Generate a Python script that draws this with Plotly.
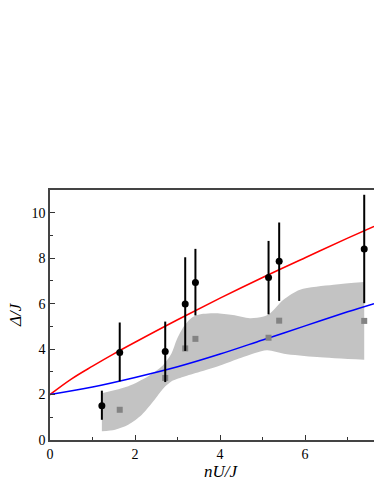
import plotly.graph_objects as go

# Measured points (black circles) with asymmetric error bars
pts_x = [1.22, 1.64, 2.71, 3.18, 3.42, 5.14, 5.39, 7.39]
pts_y = [1.51, 3.85, 3.89, 5.98, 6.93, 7.15, 7.86, 8.40]
pts_top = [2.17, 5.17, 5.21, 8.04, 8.41, 8.76, 9.57, 10.79]
pts_bottom = [0.89, 2.58, 2.55, 3.92, 5.48, 5.53, 6.12, 6.02]

# Grey squares
sq_x = [1.64, 2.71, 3.18, 3.42, 5.14, 5.39, 7.39]
sq_y = [1.33, 2.73, 4.03, 4.45, 4.50, 5.25, 5.24]

# Grey band: upper and lower edges
band_up_x = [1.22, 1.84, 2.31, 2.63, 2.86, 2.98, 3.15, 3.35, 3.6, 3.9, 4.3, 4.7, 5.0, 5.18, 5.49, 5.88, 6.67, 7.39]
band_up_y = [2.06, 2.36, 2.80, 3.24, 3.82, 4.41, 5.00, 5.40, 5.55, 5.58, 5.50, 5.36, 5.42, 5.58, 6.17, 6.61, 6.83, 6.95]
band_lo_x = [1.22, 1.53, 1.84, 2.16, 2.43, 2.67, 2.86, 3.18, 3.57, 4.0, 4.5, 5.1, 5.5, 6.28, 7.39]
band_lo_y = [0.38, 0.45, 0.67, 1.11, 1.70, 2.28, 2.58, 2.80, 3.02, 3.28, 3.62, 3.95, 3.80, 3.65, 3.53]

# Red and blue curves
red_x = [0, 0.5, 1, 1.5, 2, 3, 4, 5, 6, 7, 7.62]
red_y = [2.0, 2.68, 3.25, 3.79, 4.30, 5.29, 6.24, 7.15, 8.02, 8.88, 9.40]
blue_x = [0, 1, 2, 3, 4, 5, 6, 7, 7.62]
blue_y = [2.0, 2.33, 2.75, 3.22, 3.78, 4.40, 5.02, 5.64, 6.0]

x_ticks = [0, 2, 4, 6]
y_ticks = [0, 2, 4, 6, 8, 10]

err_plus = [t - y for t, y in zip(pts_top, pts_y)]
err_minus = [y - b for y, b in zip(pts_y, pts_bottom)]

fig = go.Figure()
fig.add_trace(go.Scatter(x=band_lo_x, y=band_lo_y, mode="lines",
                         line=dict(width=0, shape="spline", smoothing=0.8),
                         hoverinfo="skip", showlegend=False))
fig.add_trace(go.Scatter(x=band_up_x, y=band_up_y, mode="lines",
                         line=dict(width=0, shape="spline", smoothing=0.8),
                         fill="tonexty", fillcolor="#c3c3c3",
                         hoverinfo="skip", showlegend=False))
fig.add_trace(go.Scatter(x=red_x, y=red_y, mode="lines",
                         line=dict(color="#ff0000", width=1.5, shape="spline"),
                         showlegend=False))
fig.add_trace(go.Scatter(x=blue_x, y=blue_y, mode="lines",
                         line=dict(color="#0000ff", width=1.5, shape="spline"),
                         showlegend=False))
fig.add_trace(go.Scatter(x=sq_x, y=sq_y, mode="markers",
                         marker=dict(symbol="square", size=6, color="#838383"),
                         showlegend=False))
fig.add_trace(go.Scatter(x=pts_x, y=pts_y, mode="markers",
                         marker=dict(symbol="circle", size=7, color="black"),
                         error_y=dict(type="data", symmetric=False, array=err_plus,
                                      arrayminus=err_minus, color="black",
                                      thickness=2, width=0),
                         cliponaxis=False, showlegend=False))

serif = "Liberation Serif, Times New Roman, Times, serif"
axis_font = dict(family=serif, size=14, color="black")
fig.update_xaxes(range=[0, 7.62], tickvals=x_ticks, ticks="inside", ticklen=5,
                 tickwidth=1, tickcolor="#333", showline=True, linecolor="#444",
                 linewidth=1.5, mirror=True, showgrid=False, zeroline=False,
                 tickfont=axis_font,
                 minor=dict(dtick=1, tick0=0, ticks="inside", ticklen=3,
                            tickcolor="#333", showgrid=False))
fig.update_yaxes(range=[0, 11], tickvals=y_ticks, ticks="inside", ticklen=5,
                 tickwidth=1, tickcolor="#333", showline=True, linecolor="#444",
                 linewidth=1.5, mirror=False, showgrid=False, zeroline=False,
                 tickfont=axis_font,
                 minor=dict(dtick=1, tick0=0, ticks="inside", ticklen=3,
                            tickcolor="#333", showgrid=False))

title_font = dict(family=serif, size=17, color="black", style="italic")
fig.add_annotation(text="Δ/J", xref="paper", yref="paper", x=-0.108, y=0.5,
                   xanchor="center", yanchor="middle", textangle=-90,
                   showarrow=False, font=title_font)
fig.add_annotation(text="nU/J", xref="paper", yref="paper", x=0.528, y=-0.125,
                   xanchor="center", yanchor="middle",
                   showarrow=False, font=title_font)

fig.update_layout(width=374, height=484, margin=dict(l=50, r=0, t=190, b=44),
                  plot_bgcolor="white", paper_bgcolor="white", showlegend=False)

fig.write_html("out.html", config={"displayModeBar": False},
               post_script="document.body.style.margin='0';document.body.style.overflow='hidden';")
